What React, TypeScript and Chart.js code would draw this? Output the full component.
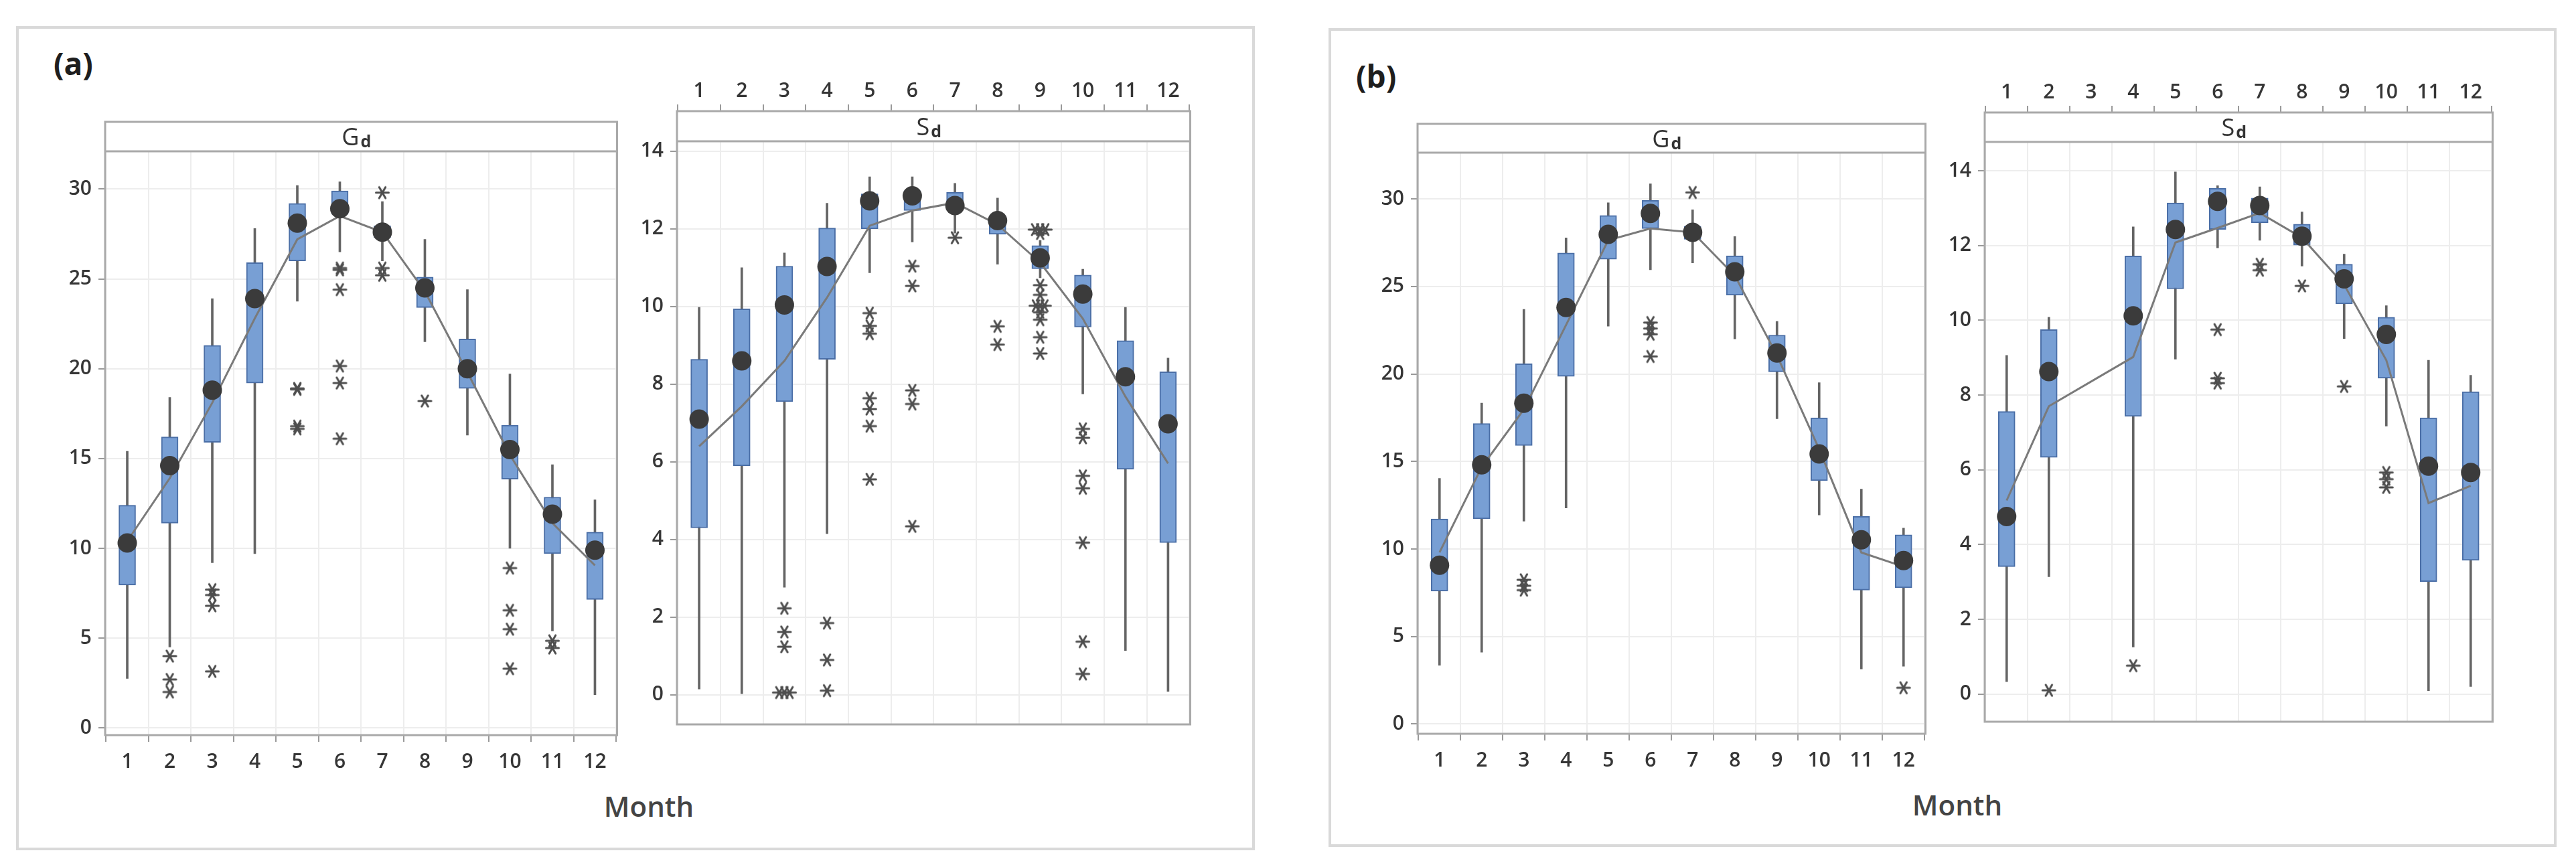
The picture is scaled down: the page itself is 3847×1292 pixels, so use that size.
import React, { useEffect, useRef } from 'react';
import { Chart, registerables } from 'chart.js';

Chart.register(...registerables);

// ---------------- DATA ----------------
const MONTHS = [1, 2, 3, 4, 5, 6, 7, 8, 9, 10, 11, 12];
const MONTHS_SD_B = [1, 2, 4, 5, 6, 7, 8, 9, 10, 11, 12];
const Y_TICK_STEP_GD = 5;
const Y_TICK_STEP_SD = 2;

// (a) Gd
const GDA_Q1 = [7.95, 11.4, 15.9, 19.2, 26.0, 28.6, 27.3, 23.4, 18.9, 13.85, 9.7, 7.15];
const GDA_Q3 = [12.4, 16.2, 21.3, 25.9, 29.2, 29.9, 27.95, 25.1, 21.65, 16.85, 12.85, 10.9];
const GDA_LO = [2.75, 4.5, 9.2, 9.7, 23.75, 26.5, 26.0, 21.5, 16.3, 10.0, 5.4, 1.85];
const GDA_HI = [15.4, 18.4, 23.9, 27.8, 30.2, 30.4, 29.3, 27.2, 24.4, 19.7, 14.65, 12.7];
const GDA_MED = [10.3, 14.6, 18.8, 23.9, 28.1, 28.9, 27.6, 24.5, 20.0, 15.5, 11.9, 9.9];
const GDA_MEAN = [10.4, 13.9, 18.1, 22.8, 27.2, 28.5, 27.6, 24.3, 19.8, 15.2, 11.4, 9.05];
const GDA_OUT: [number, number][] = [
  [2, 4.0], [2, 2.7], [2, 2.0],
  [3, 7.7], [3, 7.4], [3, 6.8], [3, 3.15],
  [5, 18.9], [5, 18.85], [5, 16.8], [5, 16.65],
  [6, 25.6], [6, 25.5], [6, 24.4], [6, 20.15], [6, 19.2], [6, 16.1],
  [7, 29.8], [7, 25.6], [7, 25.2],
  [8, 18.2],
  [10, 8.9], [10, 6.55], [10, 5.5], [10, 3.3],
  [11, 4.85], [11, 4.45],
];

// (a) Sd
const SDA_Q1 = [4.3, 5.9, 7.55, 8.64, 12.0, 12.47, 12.62, 11.86, 10.97, 9.47, 5.81, 3.92];
const SDA_Q3 = [8.64, 9.94, 11.04, 12.02, 12.9, 12.98, 12.94, 12.34, 11.57, 10.81, 9.12, 8.32];
const SDA_LO = [0.15, 0.03, 2.77, 4.15, 10.87, 11.66, 11.89, 11.09, 10.74, 7.75, 1.14, 0.09];
const SDA_HI = [9.98, 11.0, 11.38, 12.66, 13.34, 13.34, 13.17, 12.79, 11.7, 10.96, 9.98, 8.67];
const SDA_MED = [7.1, 8.6, 10.04, 11.03, 12.72, 12.85, 12.6, 12.21, 11.25, 10.32, 8.19, 6.98];
const SDA_MEAN = [6.4, 7.43, 8.6, 10.23, 12.08, 12.47, 12.67, 12.11, 11.13, 9.69, 7.68, 5.96];
const SDA_OUT: [number, number][] = [
  [3, 2.23], [3, 1.62], [3, 1.24], [2.88, 0.06], [3.0, 0.06], [3.12, 0.06],
  [4, 1.85], [4, 0.9], [4, 0.11],
  [5, 9.83], [5, 9.5], [5, 9.3], [5, 7.64], [5, 7.36], [5, 6.92], [5, 5.55],
  [6, 11.04], [6, 10.53], [6, 7.84], [6, 7.49], [6, 4.34],
  [7, 11.77],
  [8, 9.49], [8, 9.02],
  [8.88, 11.98], [9.0, 11.98], [9.12, 11.98], [9, 11.88], [9, 10.55], [9, 10.3],
  [8.9, 10.02], [9.0, 10.02], [9.1, 10.02], [9, 9.85], [9, 9.66], [9, 9.21], [9, 8.79],
  [10, 6.85], [10, 6.62], [10, 5.64], [10, 5.32], [10, 3.92], [10, 1.37], [10, 0.54],
];

// (b) Gd
const GDB_Q1 = [7.59, 11.72, 15.91, 19.86, 26.56, 28.31, 27.69, 24.5, 20.12, 13.9, 7.65, 7.78];
const GDB_Q3 = [11.72, 17.17, 20.58, 26.91, 29.06, 29.92, 28.44, 26.75, 22.22, 17.49, 11.86, 10.81];
const GDB_LO = [3.35, 4.1, 11.59, 12.34, 22.73, 25.95, 26.35, 22.0, 17.44, 11.94, 3.14, 3.3];
const GDB_HI = [14.03, 18.33, 23.69, 27.77, 29.78, 30.86, 29.38, 27.85, 23.0, 19.5, 13.42, 11.19];
const GDB_MED = [9.07, 14.81, 18.33, 23.8, 27.98, 29.17, 28.09, 25.84, 21.2, 15.43, 10.52, 9.34];
const GDB_MEAN = [9.8, 14.68, 17.98, 22.8, 27.64, 28.31, 28.09, 25.62, 21.06, 15.7, 9.8, 8.99];
const GDB_OUT: [number, number][] = [
  [3, 8.24], [3, 7.9], [3, 7.65],
  [6, 22.94], [6, 22.6], [6, 22.27], [6, 21.0],
  [7, 30.37],
  [12, 2.07],
];

// (b) Sd  (no data for month 3)
const SDB_Q1 = [3.41, 6.33, 7.43, 10.84, 12.43, 12.61, 12.01, 10.44, 8.45, 3.01, 3.58];
const SDB_Q3 = [7.56, 9.75, 11.72, 13.14, 13.53, 13.27, 12.57, 11.5, 10.08, 7.39, 8.09];
const SDB_LO = [0.33, 3.14, 1.26, 8.96, 11.94, 12.14, 11.45, 9.51, 7.17, 0.09, 0.2];
const SDB_HI = [9.06, 10.08, 12.5, 13.97, 13.6, 13.57, 12.9, 11.77, 10.39, 8.93, 8.53];
const SDB_MED = [4.75, 8.63, 10.12, 12.43, 13.18, 13.07, 12.25, 11.11, 9.62, 6.1, 5.93];
const SDB_MEAN = [5.18, 7.7, 9.02, 12.08, 12.47, 12.87, 12.21, 10.95, 8.93, 5.11, 5.57];
const SDB_OUT: [number, number][] = [
  [2, 0.1],
  [4, 0.76],
  [6, 9.75], [6, 8.45], [6, 8.32],
  [7, 11.5], [7, 11.34],
  [8, 10.92],
  [9, 8.23],
  [10, 5.93], [10, 5.75], [10, 5.53],
];

// ---------------- STYLE / LAYOUT ----------------
const FONT = '"Open Sans", "Noto Sans", sans-serif';
const BOX_FILL = '#789fd4';
const BOX_EDGE = '#4a6ea6';
const WHISKER = '#646464';
const MEAN_LINE = '#7a7a7a';
const DOT = '#3b3b3b';
const GRID = '#ededed';
const TICK_MARK = '#9a9a9a';
const FRAME = '#a9a9a9';
const TICK_TEXT = '#363636';

type Spec = {
  key: string;
  title: string;
  sub: string;
  months: number[];
  q1: number[]; q3: number[]; lo: number[]; hi: number[];
  med: number[]; mean: number[];
  out: [number, number][];
  yMin: number; yMax: number; yStep: number;
  area: { L: number; R: number; T: number; B: number };
  axisTop: boolean;
  headerH: number;
};

const SPECS: Spec[] = [
  {
    key: 'gda', title: 'G', sub: 'd', months: MONTHS,
    q1: GDA_Q1, q3: GDA_Q3, lo: GDA_LO, hi: GDA_HI, med: GDA_MED, mean: GDA_MEAN, out: GDA_OUT,
    yMin: -0.4, yMax: 33.74, yStep: Y_TICK_STEP_GD,
    area: { L: 157, R: 932, T: 166, B: 1098 }, axisTop: false, headerH: 44,
  },
  {
    key: 'sda', title: 'S', sub: 'd', months: MONTHS,
    q1: SDA_Q1, q3: SDA_Q3, lo: SDA_LO, hi: SDA_HI, med: SDA_MED, mean: SDA_MEAN, out: SDA_OUT,
    yMin: -0.76, yMax: 15.03, yStep: Y_TICK_STEP_SD,
    area: { L: 1011, R: 1788, T: 166, B: 1098 }, axisTop: true, headerH: 45,
  },
  {
    key: 'gdb', title: 'G', sub: 'd', months: MONTHS,
    q1: GDB_Q1, q3: GDB_Q3, lo: GDB_LO, hi: GDB_HI, med: GDB_MED, mean: GDB_MEAN, out: GDB_OUT,
    yMin: -0.56, yMax: 34.29, yStep: Y_TICK_STEP_GD,
    area: { L: 2117, R: 2886, T: 169, B: 1096 }, axisTop: false, headerH: 43,
  },
  {
    key: 'sdb', title: 'S', sub: 'd', months: MONTHS_SD_B,
    q1: SDB_Q1, q3: SDB_Q3, lo: SDB_LO, hi: SDB_HI, med: SDB_MED, mean: SDB_MEAN, out: SDB_OUT,
    yMin: -0.74, yMax: 15.56, yStep: Y_TICK_STEP_SD,
    area: { L: 2964, R: 3733, T: 168, B: 1094 }, axisTop: true, headerH: 44,
  },
];

function makeAsterisk(): HTMLCanvasElement {
  const c = document.createElement('canvas');
  c.width = 26;
  c.height = 24;
  const g = c.getContext('2d')!;
  g.strokeStyle = '#4e4e4e';
  g.lineWidth = 3;
  g.lineCap = 'round';
  const cx = 13, cy = 12, r = 9.5;
  for (const deg of [0, 60, 120]) {
    const a = (deg * Math.PI) / 180;
    g.beginPath();
    g.moveTo(cx - r * Math.cos(a), cy - r * Math.sin(a));
    g.lineTo(cx + r * Math.cos(a), cy + r * Math.sin(a));
    g.stroke();
  }
  return c;
}

const framePlugin = {
  id: 'frame',
  beforeDatasetsDraw(chart: any, _args: any, opts: any) {
    const { ctx, chartArea: a } = chart;
    ctx.save();
    ctx.fillStyle = '#ffffff';
    ctx.fillRect(a.left, a.top, a.right - a.left, opts.headerH);
    ctx.restore();
  },
  afterDraw(chart: any, _args: any, opts: any) {
    const { ctx, chartArea: a } = chart;
    ctx.save();
    ctx.strokeStyle = FRAME;
    ctx.lineWidth = 3;
    ctx.strokeRect(a.left, a.top, a.right - a.left, a.bottom - a.top);
    ctx.beginPath();
    ctx.moveTo(a.left, a.top + opts.headerH);
    ctx.lineTo(a.right, a.top + opts.headerH);
    ctx.stroke();
    ctx.fillStyle = '#333333';
    ctx.textBaseline = 'alphabetic';
    const f1 = `400 36px ${FONT}`;
    const f2 = `700 25px ${FONT}`;
    ctx.font = f1;
    const w1 = ctx.measureText(opts.title).width;
    ctx.font = f2;
    const w2 = ctx.measureText(opts.sub).width;
    const x0 = (a.left + a.right) / 2 - (w1 + w2) / 2 - 8;
    const base = a.top + opts.headerH / 2 + 13;
    ctx.font = f1;
    ctx.fillText(opts.title, x0, base);
    ctx.font = f2;
    ctx.fillText(opts.sub, x0 + w1 + 2, base + 3);
    ctx.restore();
  },
};

function Subplot({ spec }: { spec: Spec }) {
  const ref = useRef<HTMLCanvasElement | null>(null);
  const yW = spec.axisTop ? 75 : 110;
  const xH = spec.axisTop ? 60 : 70;
  const padTop = spec.axisTop ? 0 : 12;
  const padBottom = spec.axisTop ? 12 : 0;
  const padRight = 4;
  const { L, R, T, B } = spec.area;
  const left = L - yW;
  const top = spec.axisTop ? T - xH : T - padTop;
  const width = R + padRight - left;
  const height = (spec.axisTop ? B + padBottom : B + xH) - top;

  useEffect(() => {
    if (!ref.current) return;
    const star = makeAsterisk();
    const m = spec.months;
    const tickFont = { family: FONT, size: 30, weight: '600' as any };
    const chart = new Chart(ref.current, {
      type: 'bar',
      data: {
        datasets: [
          {
            type: 'bar',
            data: m.map((x, i) => ({ x, y: [spec.lo[i], spec.hi[i]] })) as any,
            backgroundColor: WHISKER,
            borderWidth: 0,
            barThickness: 3,
            grouped: false,
            order: 5,
          } as any,
          {
            type: 'bar',
            data: m.map((x, i) => ({ x, y: [spec.q1[i], spec.q3[i]] })) as any,
            backgroundColor: BOX_FILL,
            borderColor: BOX_EDGE,
            borderWidth: 2,
            borderSkipped: false,
            barThickness: 25,
            grouped: false,
            order: 4,
          } as any,
          {
            type: 'line',
            data: m.map((x, i) => ({ x, y: spec.mean[i] })),
            borderColor: MEAN_LINE,
            borderWidth: 3,
            pointRadius: 0,
            tension: 0,
            fill: false,
            order: 3,
          } as any,
          {
            type: 'line',
            data: m.map((x, i) => ({ x, y: spec.med[i] })),
            showLine: false,
            pointRadius: 14.5,
            pointHoverRadius: 14.5,
            pointBackgroundColor: DOT,
            pointBorderWidth: 0,
            order: 2,
          } as any,
          {
            type: 'line',
            data: spec.out.map(([x, y]) => ({ x, y })),
            showLine: false,
            pointStyle: star,
            pointRadius: 10,
            order: 1,
          } as any,
        ],
      },
      options: {
        responsive: false,
        animation: false,
        devicePixelRatio: 1,
        events: [],
        layout: { padding: { top: padTop, bottom: padBottom, left: 0, right: padRight } },
        plugins: {
          legend: { display: false },
          tooltip: { enabled: false },
          frame: { headerH: spec.headerH, title: spec.title, sub: spec.sub },
        } as any,
        scales: {
          x: {
            type: 'linear',
            position: spec.axisTop ? 'top' : 'bottom',
            min: 0.48,
            max: 12.52,
            offset: false,
            ticks: {
              stepSize: 1,
              includeBounds: false,
              autoSkip: false,
              maxRotation: 0,
              minRotation: 0,
              padding: spec.axisTop ? 2 : 12,
              font: tickFont,
              color: TICK_TEXT,
            },
            grid: { color: GRID, lineWidth: 2, tickColor: TICK_MARK, tickLength: 10, tickWidth: 2 },
            border: { display: false },
            afterFit: (s: any) => { s.height = xH; },
          } as any,
          y: {
            type: 'linear',
            min: spec.yMin,
            max: spec.yMax,
            ticks: {
              stepSize: spec.yStep,
              includeBounds: false,
              padding: 10,
              font: tickFont,
              color: TICK_TEXT,
            },
            grid: { color: GRID, lineWidth: 2, tickColor: TICK_MARK, tickLength: 10, tickWidth: 2 },
            border: { display: false },
            afterFit: (s: any) => { s.width = yW; },
          } as any,
        },
      },
      plugins: [framePlugin as any],
    });
    return () => chart.destroy();
  }, [spec]);

  return (
    <canvas
      ref={ref}
      width={width}
      height={height}
      style={{ position: 'absolute', left, top, width, height }}
    />
  );
}

function Text({ x, y, size, weight, color, children, anchor }: any) {
  return (
    <div
      style={{
        position: 'absolute',
        left: x,
        top: y - 0.53 * size,
        fontFamily: FONT,
        fontSize: size,
        fontWeight: weight,
        color,
        lineHeight: `${size}px`,
        whiteSpace: 'nowrap',
        transform: anchor === 'center' ? 'translateX(-50%)' : undefined,
      }}
    >
      {children}
    </div>
  );
}

export default function App() {
  return (
    <div
      style={{
        position: 'absolute',
        left: 0,
        top: 0,
        width: 3847,
        height: 1292,
        background: '#ffffff',
        overflow: 'hidden',
      }}
    >
      <div style={{ position: 'absolute', left: 24, top: 39, width: 1850, height: 1231, border: '4px solid #d9d9d9', boxSizing: 'border-box' }} />
      <div style={{ position: 'absolute', left: 1984, top: 42, width: 1834, height: 1223, border: '4px solid #d9d9d9', boxSizing: 'border-box' }} />
      <Text x={80} y={95} size={46} weight={700} color="#1e1e1e">(a)</Text>
      <Text x={2025} y={114} size={46} weight={700} color="#1e1e1e">(b)</Text>
      <Text x={969} y={1205} size={42} weight={600} color="#444444" anchor="center">Month</Text>
      <Text x={2923} y={1203} size={42} weight={600} color="#444444" anchor="center">Month</Text>
      {SPECS.map((s) => (
        <Subplot key={s.key} spec={s} />
      ))}
    </div>
  );
}
